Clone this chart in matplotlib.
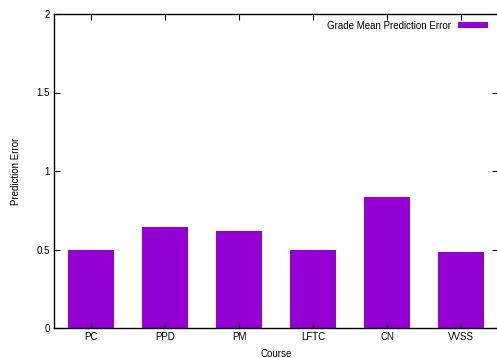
import matplotlib.pyplot as plt
import numpy as np

plt.rcParams['font.family'] = ['Liberation Sans', 'DejaVu Sans']

courses = ["PC", "PPD", "PM", "LFTC", "CN", "VVSS"]
errors = [0.50, 0.645, 0.618, 0.498, 0.832, 0.484]
y_ticks = [0, 0.5, 1, 1.5, 2]
y_tick_labels = ["0", "0.5", "1", "1.5", "2"]

fig = plt.figure(figsize=(4.97, 3.58), dpi=100)
ax = fig.add_axes([54 / 497, 30 / 358, 444 / 497, 314 / 358])

x = np.arange(len(courses))
ax.bar(x, errors, width=0.615, color="#9400d3", label="Grade Mean Prediction Error")

ax.set_xlim(-0.5, len(courses) - 0.5)
ax.set_ylim(0, 2)
ax.set_xticks(x)
ax.set_xticklabels(courses)
ax.set_yticks(y_ticks)
ax.set_yticklabels(y_tick_labels)
ax.tick_params(direction="in", length=4, width=0.8, labelsize=7,
               top=True, right=True, pad=3)
for s in ax.spines.values():
    s.set_linewidth(1.0)
ax.spines["right"].set_visible(False)

ax.set_xlabel("Course", fontsize=7, labelpad=5)
ax.set_ylabel("Prediction Error", fontsize=7, labelpad=11)

ax.legend(loc="upper right", frameon=False, fontsize=7, markerfirst=False,
          handlelength=3.0, handleheight=0.6, borderaxespad=0.3,
          bbox_to_anchor=(0.992, 1.0))

fig.savefig("out.png", dpi=100)
